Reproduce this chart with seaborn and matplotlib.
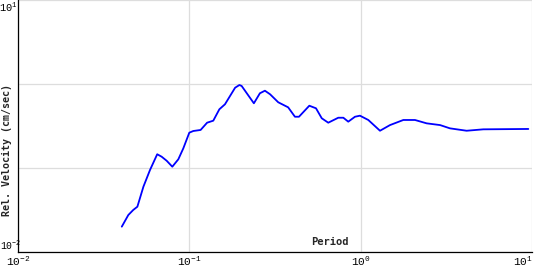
import matplotlib
matplotlib.use("Agg")
import matplotlib.pyplot as plt
import seaborn as sns
import pandas as pd

period = [0.0404, 0.0441, 0.0471, 0.0498, 0.0540, 0.0590, 0.0650, 0.0690, 0.0738,
          0.0796, 0.0863, 0.0923, 0.100, 0.1055, 0.1164, 0.127, 0.138, 0.1497,
          0.1614, 0.185, 0.196, 0.202, 0.238, 0.258, 0.276, 0.296, 0.330, 0.377,
          0.413, 0.436, 0.501, 0.548, 0.592, 0.646, 0.739, 0.791, 0.845, 0.925,
          0.989, 1.106, 1.294, 1.48, 1.77, 2.07, 2.42, 2.90, 3.31, 4.14, 5.18, 9.48]
velocity = [0.0202, 0.0278, 0.0319, 0.0349, 0.0604, 0.0955, 0.147, 0.1374, 0.123,
            0.1045, 0.128, 0.173, 0.2655, 0.278, 0.286, 0.349, 0.369, 0.504,
            0.578, 0.911, 0.981, 0.955, 0.594, 0.782, 0.839, 0.760, 0.611, 0.532,
            0.411, 0.411, 0.556, 0.518, 0.394, 0.349, 0.400, 0.400, 0.359, 0.411,
            0.423, 0.376, 0.280, 0.327, 0.376, 0.376, 0.343, 0.327, 0.299, 0.280, 0.291, 0.294]

x_ticks = [0.01, 0.1, 1, 10]
x_tick_labels = [r"$10^{-2}$", r"$10^{-1}$", r"$10^{0}$", r"$10^{1}$"]
y_ticks = [0.01, 0.1, 1, 10]
y_tick_labels = [r"$10^{-2}$", "", "", r"$10^{1}$"]
x_label = "Period"
y_label = "Rel. Velocity (cm/sec)"

sns.set_style("white")
plt.rcParams["mathtext.fontset"] = "custom"
plt.rcParams["mathtext.rm"] = "Liberation Mono"
plt.rcParams["mathtext.it"] = "Liberation Mono"
plt.rcParams["font.family"] = ["DejaVu Sans Mono"]

df = pd.DataFrame({"Period": period, "Velocity": velocity})

fig = plt.figure(figsize=(5.4, 2.7), dpi=100)
W, H = 540, 270
left, right, top, bottom = 17.8, 532.3, 0.3, 252.3
ax = fig.add_axes([left / W, (H - bottom) / H, (right - left) / W, (bottom - top) / H])

sns.lineplot(data=df, x="Period", y="Velocity", ax=ax, color="#0000ff", linewidth=1.3,
             estimator=None, sort=False)
ax.set_xscale("log")
ax.set_yscale("log")
ax.set_xlim(0.01, 10)
ax.set_ylim(0.01, 10)
ax.set_xticks(x_ticks)
ax.set_yticks(y_ticks)
ax.minorticks_off()
ax.set_xticklabels(x_tick_labels, fontsize=8)
ax.set_yticklabels(y_tick_labels, fontsize=7.5)
ax.set_xlabel("")
ax.set_ylabel("")
ylabels = ax.get_yticklabels()
ylabels[0].set_verticalalignment("bottom")
ylabels[0].set_horizontalalignment("left")
ylabels[0].set_fontsize(7)
ylabels[0].set_x(-17.0 / (right - left))
ylabels[-1].set_verticalalignment("top")
xlabels = ax.get_xticklabels()
xlabels[-1].set_horizontalalignment("right")

ax.grid(True, which="major", color="#dddddd", linewidth=0.9)
ax.set_axisbelow(True)
for s in ["top", "right"]:
    ax.spines[s].set_visible(False)
for s in ["left", "bottom"]:
    ax.spines[s].set_color("black")
    ax.spines[s].set_linewidth(0.9)
ax.tick_params(axis="both", which="major", direction="in", length=4, width=0.9,
               color="black", labelcolor="black")
ax.tick_params(axis="x", pad=2)
ax.tick_params(axis="y", pad=0.5)

ax.text(0.607, 0.039, x_label, transform=ax.transAxes, ha="center", va="center",
        fontsize=7.5, fontweight="bold", family="DejaVu Sans Mono")
ax.text(-0.021, 0.406, y_label, transform=ax.transAxes, ha="center", va="center",
        rotation=90, fontsize=7.2, fontweight="bold", family="DejaVu Sans Mono")

fig.savefig("out.png", dpi=100)
